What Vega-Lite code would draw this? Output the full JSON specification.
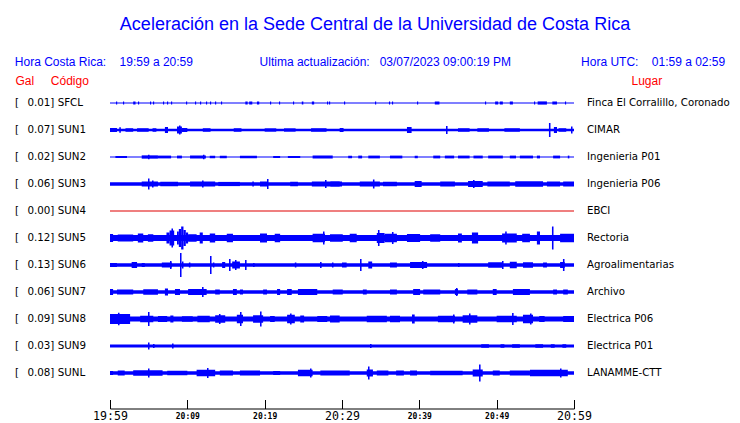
{
  "$schema": "https://vega.github.io/schema/vega-lite/v6.json",
  "width": 464,
  "height": 297,
  "autosize": "none",
  "padding": {"left": 110, "top": 89.5, "right": 166, "bottom": 36.5},
  "background": "white",
  "title": {
    "text": "Aceleración en la Sede Central de la Universidad de Costa Rica",
    "subtitle": "Hora Costa Rica:\u00a0\u00a0\u00a0\u00a019:59 a 20:59\u00a0\u00a0\u00a0\u00a0\u00a0\u00a0\u00a0\u00a0\u00a0\u00a0\u00a0\u00a0\u00a0\u00a0\u00a0\u00a0\u00a0\u00a0\u00a0\u00a0Ultima actualización:\u00a0\u00a0\u00a003/07/2023 09:00:19 PM\u00a0\u00a0\u00a0\u00a0\u00a0\u00a0\u00a0\u00a0\u00a0\u00a0\u00a0\u00a0\u00a0\u00a0\u00a0\u00a0\u00a0\u00a0\u00a0\u00a0\u00a0Hora UTC:\u00a0\u00a0\u00a0\u00a001:59 a 02:59\u00a0\u00a0\u00a0\u200b",
    "anchor": "middle",
    "frame": "group",
    "dx": 33,
    "offset": 6.5,
    "font": "Liberation Sans",
    "fontSize": 18,
    "fontWeight": "normal",
    "color": "#0000ff",
    "subtitleFont": "Liberation Sans",
    "subtitleFontSize": 12,
    "subtitleFontWeight": "normal",
    "subtitleColor": "#0000ff",
    "subtitlePadding": 23
  },
  "datasets": {
    "st": [
      {"s": "SFCL", "gal": 0.01, "place": "Finca El Corralillo, Coronado"},
      {"s": "SUN1", "gal": 0.07, "place": "CIMAR"},
      {"s": "SUN2", "gal": 0.02, "place": "Ingenieria P01"},
      {"s": "SUN3", "gal": 0.06, "place": "Ingenieria P06"},
      {"s": "SUN4", "gal": 0.00, "place": "EBCI"},
      {"s": "SUN5", "gal": 0.12, "place": "Rectoria"},
      {"s": "SUN6", "gal": 0.13, "place": "Agroalimentarias"},
      {"s": "SUN7", "gal": 0.06, "place": "Archivo"},
      {"s": "SUN8", "gal": 0.09, "place": "Electrica P06"},
      {"s": "SUN9", "gal": 0.03, "place": "Electrica P01"},
      {"s": "SUNL", "gal": 0.08, "place": "LANAMME-CTT"}
    ],
    "w": [
      {"s": "SFCL", "t0": 0, "t1": 60, "a": 1.1},
      {"s": "SFCL", "t0": 0.78, "t1": 0.93, "a": 3},
      {"s": "SFCL", "t0": 1.68, "t1": 1.83, "a": 3},
      {"s": "SFCL", "t0": 3.0, "t1": 3.3, "a": 3},
      {"s": "SFCL", "t0": 3.62, "t1": 3.77, "a": 3},
      {"s": "SFCL", "t0": 5.17, "t1": 5.32, "a": 3},
      {"s": "SFCL", "t0": 5.56, "t1": 5.71, "a": 3},
      {"s": "SFCL", "t0": 6.85, "t1": 7.0, "a": 3},
      {"s": "SFCL", "t0": 7.37, "t1": 7.52, "a": 3},
      {"s": "SFCL", "t0": 7.89, "t1": 8.04, "a": 3},
      {"s": "SFCL", "t0": 9.83, "t1": 9.98, "a": 3},
      {"s": "SFCL", "t0": 10.99, "t1": 11.14, "a": 3},
      {"s": "SFCL", "t0": 11.64, "t1": 11.79, "a": 3},
      {"s": "SFCL", "t0": 12.41, "t1": 12.56, "a": 3},
      {"s": "SFCL", "t0": 12.93, "t1": 13.08, "a": 3},
      {"s": "SFCL", "t0": 13.58, "t1": 13.73, "a": 3},
      {"s": "SFCL", "t0": 14.35, "t1": 14.5, "a": 3},
      {"s": "SFCL", "t0": 17.5, "t1": 17.8, "a": 3},
      {"s": "SFCL", "t0": 18.0, "t1": 18.4, "a": 3},
      {"s": "SFCL", "t0": 19.0, "t1": 19.3, "a": 3},
      {"s": "SFCL", "t0": 20.69, "t1": 20.84, "a": 3},
      {"s": "SFCL", "t0": 21.85, "t1": 22.0, "a": 3},
      {"s": "SFCL", "t0": 23.66, "t1": 23.81, "a": 3},
      {"s": "SFCL", "t0": 24.8, "t1": 25.0, "a": 3},
      {"s": "SFCL", "t0": 26.1, "t1": 26.4, "a": 3},
      {"s": "SFCL", "t0": 28.06, "t1": 28.21, "a": 3},
      {"s": "SFCL", "t0": 28.32, "t1": 28.47, "a": 3},
      {"s": "SFCL", "t0": 30.26, "t1": 30.41, "a": 3},
      {"s": "SFCL", "t0": 34.27, "t1": 34.42, "a": 3},
      {"s": "SFCL", "t0": 36.07, "t1": 36.22, "a": 3},
      {"s": "SFCL", "t0": 36.46, "t1": 36.61, "a": 3},
      {"s": "SFCL", "t0": 39.7, "t1": 39.85, "a": 3},
      {"s": "SFCL", "t0": 42.0, "t1": 42.6, "a": 3},
      {"s": "SFCL", "t0": 48.49, "t1": 48.64, "a": 3},
      {"s": "SFCL", "t0": 49.8, "t1": 50.2, "a": 3},
      {"s": "SFCL", "t0": 50.4, "t1": 50.8, "a": 3},
      {"s": "SFCL", "t0": 51.7, "t1": 52.1, "a": 3},
      {"s": "SFCL", "t0": 54.83, "t1": 54.98, "a": 3},
      {"s": "SFCL", "t0": 55.3, "t1": 56.5, "a": 3.2},
      {"s": "SFCL", "t0": 57.2, "t1": 57.8, "a": 3},
      {"s": "SFCL", "t0": 58.83, "t1": 58.98, "a": 3},

      {"s": "SUN1", "t0": 0, "t1": 60, "a": 2.7},
      {"s": "SUN1", "t0": 0, "t1": 0.9, "a": 4},
      {"s": "SUN1", "t0": 1.2, "t1": 1.4, "a": 5.5},
      {"s": "SUN1", "t0": 2.0, "t1": 3.0, "a": 3.5},
      {"s": "SUN1", "t0": 3.5, "t1": 5.0, "a": 3.5},
      {"s": "SUN1", "t0": 5.5, "t1": 6.0, "a": 3.5},
      {"s": "SUN1", "t0": 7.1, "t1": 7.5, "a": 6},
      {"s": "SUN1", "t0": 8.66, "t1": 9.3, "a": 7},
      {"s": "SUN1", "t0": 8.92, "t1": 9.12, "a": 9},
      {"s": "SUN1", "t0": 9.3, "t1": 10.0, "a": 4},
      {"s": "SUN1", "t0": 12.0, "t1": 13.0, "a": 3.5},
      {"s": "SUN1", "t0": 16.0, "t1": 17.0, "a": 3.5},
      {"s": "SUN1", "t0": 20.0, "t1": 21.5, "a": 3.3},
      {"s": "SUN1", "t0": 22.5, "t1": 24.0, "a": 3.3},
      {"s": "SUN1", "t0": 26.0, "t1": 28.0, "a": 3.5},
      {"s": "SUN1", "t0": 29.7, "t1": 30.2, "a": 4},
      {"s": "SUN1", "t0": 38.4, "t1": 39.0, "a": 6},
      {"s": "SUN1", "t0": 43.45, "t1": 43.65, "a": 8},
      {"s": "SUN1", "t0": 45.0, "t1": 46.5, "a": 3.5},
      {"s": "SUN1", "t0": 47.5, "t1": 49.0, "a": 3.5},
      {"s": "SUN1", "t0": 51.0, "t1": 53.0, "a": 3.5},
      {"s": "SUN1", "t0": 56.76, "t1": 56.96, "a": 14},
      {"s": "SUN1", "t0": 57.4, "t1": 57.8, "a": 6},
      {"s": "SUN1", "t0": 58.0, "t1": 59.0, "a": 3.5},
      {"s": "SUN1", "t0": 59.61, "t1": 59.81, "a": 7},

      {"s": "SUN2", "t0": 0, "t1": 60, "a": 1},
      {"s": "SUN2", "t0": 0.7, "t1": 2.2, "a": 2},
      {"s": "SUN2", "t0": 4.1, "t1": 6.2, "a": 3.3},
      {"s": "SUN2", "t0": 4.91, "t1": 5.11, "a": 4.5},
      {"s": "SUN2", "t0": 6.2, "t1": 7.9, "a": 2.8},
      {"s": "SUN2", "t0": 8.66, "t1": 9.3, "a": 2.8},
      {"s": "SUN2", "t0": 10.35, "t1": 12.4, "a": 3},
      {"s": "SUN2", "t0": 12.02, "t1": 12.22, "a": 4.5},
      {"s": "SUN2", "t0": 12.9, "t1": 13.6, "a": 2.5},
      {"s": "SUN2", "t0": 14.2, "t1": 15.1, "a": 2.5},
      {"s": "SUN2", "t0": 16.8, "t1": 19.0, "a": 2.5},
      {"s": "SUN2", "t0": 21.1, "t1": 22.0, "a": 2},
      {"s": "SUN2", "t0": 23.0, "t1": 24.6, "a": 2},
      {"s": "SUN2", "t0": 26.2, "t1": 28.8, "a": 2.8},
      {"s": "SUN2", "t0": 30.8, "t1": 31.3, "a": 2.5},
      {"s": "SUN2", "t0": 32.1, "t1": 32.6, "a": 2.8},
      {"s": "SUN2", "t0": 33.4, "t1": 34.9, "a": 2.8},
      {"s": "SUN2", "t0": 36.2, "t1": 37.8, "a": 2.8},
      {"s": "SUN2", "t0": 39.4, "t1": 39.8, "a": 2.5},
      {"s": "SUN2", "t0": 41.8, "t1": 42.7, "a": 2.8},
      {"s": "SUN2", "t0": 43.3, "t1": 44.5, "a": 2.8},
      {"s": "SUN2", "t0": 45.0, "t1": 46.5, "a": 2.8},
      {"s": "SUN2", "t0": 47.0, "t1": 48.2, "a": 2.8},
      {"s": "SUN2", "t0": 48.9, "t1": 50.8, "a": 2.8},
      {"s": "SUN2", "t0": 51.7, "t1": 52.5, "a": 2.8},
      {"s": "SUN2", "t0": 53.0, "t1": 54.7, "a": 2.8},
      {"s": "SUN2", "t0": 55.2, "t1": 55.6, "a": 2.8},
      {"s": "SUN2", "t0": 57.3, "t1": 58.2, "a": 2.8},
      {"s": "SUN2", "t0": 59.2, "t1": 59.4, "a": 2.8},

      {"s": "SUN3", "t0": 0, "t1": 60, "a": 3.3},
      {"s": "SUN3", "t0": 4.1, "t1": 6.2, "a": 5},
      {"s": "SUN3", "t0": 4.91, "t1": 5.11, "a": 11},
      {"s": "SUN3", "t0": 5.43, "t1": 5.63, "a": 7},
      {"s": "SUN3", "t0": 6.5, "t1": 8.8, "a": 4.5},
      {"s": "SUN3", "t0": 10.35, "t1": 13.6, "a": 5},
      {"s": "SUN3", "t0": 11.9, "t1": 12.1, "a": 7},
      {"s": "SUN3", "t0": 14.0, "t1": 16.8, "a": 4.2},
      {"s": "SUN3", "t0": 18.4, "t1": 18.6, "a": 5},
      {"s": "SUN3", "t0": 19.4, "t1": 20.3, "a": 5},
      {"s": "SUN3", "t0": 20.3, "t1": 20.5, "a": 10},
      {"s": "SUN3", "t0": 23.3, "t1": 24.3, "a": 4.5},
      {"s": "SUN3", "t0": 26.1, "t1": 29.7, "a": 5},
      {"s": "SUN3", "t0": 27.8, "t1": 28.0, "a": 8},
      {"s": "SUN3", "t0": 28.5, "t1": 30.0, "a": 5},
      {"s": "SUN3", "t0": 32.3, "t1": 34.9, "a": 5},
      {"s": "SUN3", "t0": 34.0, "t1": 34.2, "a": 9},
      {"s": "SUN3", "t0": 35.3, "t1": 37.1, "a": 4.5},
      {"s": "SUN3", "t0": 39.4, "t1": 40.3, "a": 6},
      {"s": "SUN3", "t0": 42.7, "t1": 44.6, "a": 5},
      {"s": "SUN3", "t0": 46.3, "t1": 48.2, "a": 6},
      {"s": "SUN3", "t0": 46.94, "t1": 47.14, "a": 8},
      {"s": "SUN3", "t0": 48.8, "t1": 51.7, "a": 5},
      {"s": "SUN3", "t0": 52.4, "t1": 56.0, "a": 5.5},
      {"s": "SUN3", "t0": 56.5, "t1": 58.2, "a": 5},
      {"s": "SUN3", "t0": 58.6, "t1": 60, "a": 5},

      {"s": "SUN4", "t0": 0, "t1": 60, "a": 1},

      {"s": "SUN5", "t0": 0, "t1": 60, "a": 6},
      {"s": "SUN5", "t0": 0, "t1": 0.4, "a": 8},
      {"s": "SUN5", "t0": 1.0, "t1": 3.0, "a": 7},
      {"s": "SUN5", "t0": 3.6, "t1": 4.3, "a": 9},
      {"s": "SUN5", "t0": 4.9, "t1": 5.6, "a": 7.5},
      {"s": "SUN5", "t0": 7.3, "t1": 7.7, "a": 11},
      {"s": "SUN5", "t0": 7.7, "t1": 8.3, "a": 15},
      {"s": "SUN5", "t0": 7.95, "t1": 8.15, "a": 19},
      {"s": "SUN5", "t0": 8.66, "t1": 8.9, "a": 13},
      {"s": "SUN5", "t0": 8.9, "t1": 9.2, "a": 18},
      {"s": "SUN5", "t0": 9.2, "t1": 9.5, "a": 23},
      {"s": "SUN5", "t0": 9.5, "t1": 9.8, "a": 16},
      {"s": "SUN5", "t0": 9.8, "t1": 10.1, "a": 11},
      {"s": "SUN5", "t0": 10.1, "t1": 11.2, "a": 7.5},
      {"s": "SUN5", "t0": 11.6, "t1": 12.0, "a": 11},
      {"s": "SUN5", "t0": 12.9, "t1": 13.6, "a": 9},
      {"s": "SUN5", "t0": 15.1, "t1": 15.9, "a": 8.5},
      {"s": "SUN5", "t0": 19.4, "t1": 20.3, "a": 9},
      {"s": "SUN5", "t0": 21.3, "t1": 22.0, "a": 8.5},
      {"s": "SUN5", "t0": 26.2, "t1": 27.8, "a": 8.5},
      {"s": "SUN5", "t0": 27.54, "t1": 27.74, "a": 13},
      {"s": "SUN5", "t0": 28.45, "t1": 30.1, "a": 7.5},
      {"s": "SUN5", "t0": 31.0, "t1": 31.9, "a": 8.5},
      {"s": "SUN5", "t0": 34.5, "t1": 35.5, "a": 10},
      {"s": "SUN5", "t0": 35.5, "t1": 37.1, "a": 8.5},
      {"s": "SUN5", "t0": 34.65, "t1": 34.85, "a": 16},
      {"s": "SUN5", "t0": 36.46, "t1": 36.66, "a": 12},
      {"s": "SUN5", "t0": 38.4, "t1": 40.1, "a": 8},
      {"s": "SUN5", "t0": 41.4, "t1": 42.7, "a": 7.5},
      {"s": "SUN5", "t0": 45.0, "t1": 45.5, "a": 9},
      {"s": "SUN5", "t0": 46.8, "t1": 47.6, "a": 11},
      {"s": "SUN5", "t0": 50.7, "t1": 52.6, "a": 9},
      {"s": "SUN5", "t0": 51.1, "t1": 51.3, "a": 13},
      {"s": "SUN5", "t0": 53.3, "t1": 54.3, "a": 8.5},
      {"s": "SUN5", "t0": 55.2, "t1": 55.6, "a": 13},
      {"s": "SUN5", "t0": 57.15, "t1": 57.35, "a": 23},
      {"s": "SUN5", "t0": 58.2, "t1": 60, "a": 8.5},

      {"s": "SUN6", "t0": 0, "t1": 60, "a": 3.3},
      {"s": "SUN6", "t0": 0, "t1": 0.9, "a": 4},
      {"s": "SUN6", "t0": 2.8, "t1": 3.5, "a": 6},
      {"s": "SUN6", "t0": 4.1, "t1": 4.5, "a": 4},
      {"s": "SUN6", "t0": 6.7, "t1": 8.0, "a": 5},
      {"s": "SUN6", "t0": 7.76, "t1": 7.96, "a": 8},
      {"s": "SUN6", "t0": 9.05, "t1": 9.25, "a": 24},
      {"s": "SUN6", "t0": 9.3, "t1": 9.5, "a": 7},
      {"s": "SUN6", "t0": 10.2, "t1": 10.4, "a": 5},
      {"s": "SUN6", "t0": 12.93, "t1": 13.13, "a": 18},
      {"s": "SUN6", "t0": 13.3, "t1": 13.5, "a": 5},
      {"s": "SUN6", "t0": 14.5, "t1": 14.9, "a": 6},
      {"s": "SUN6", "t0": 15.39, "t1": 15.59, "a": 12},
      {"s": "SUN6", "t0": 15.8, "t1": 16.8, "a": 7},
      {"s": "SUN6", "t0": 16.16, "t1": 16.36, "a": 10},
      {"s": "SUN6", "t0": 17.46, "t1": 17.66, "a": 10},
      {"s": "SUN6", "t0": 18.5, "t1": 18.7, "a": 4},
      {"s": "SUN6", "t0": 23.9, "t1": 24.1, "a": 5},
      {"s": "SUN6", "t0": 27.16, "t1": 27.36, "a": 6},
      {"s": "SUN6", "t0": 28.7, "t1": 28.9, "a": 5},
      {"s": "SUN6", "t0": 30.0, "t1": 30.6, "a": 5},
      {"s": "SUN6", "t0": 32.33, "t1": 32.53, "a": 12},
      {"s": "SUN6", "t0": 33.4, "t1": 33.9, "a": 7},
      {"s": "SUN6", "t0": 36.2, "t1": 37.1, "a": 5},
      {"s": "SUN6", "t0": 38.8, "t1": 41.0, "a": 6},
      {"s": "SUN6", "t0": 40.34, "t1": 40.54, "a": 8},
      {"s": "SUN6", "t0": 45.0, "t1": 45.2, "a": 4},
      {"s": "SUN6", "t0": 48.9, "t1": 50.8, "a": 5.5},
      {"s": "SUN6", "t0": 50.69, "t1": 50.89, "a": 8},
      {"s": "SUN6", "t0": 51.7, "t1": 52.6, "a": 6.5},
      {"s": "SUN6", "t0": 53.4, "t1": 54.7, "a": 5.5},
      {"s": "SUN6", "t0": 56.0, "t1": 56.5, "a": 5},
      {"s": "SUN6", "t0": 58.2, "t1": 58.8, "a": 6},
      {"s": "SUN6", "t0": 58.57, "t1": 58.77, "a": 12},

      {"s": "SUN7", "t0": 0, "t1": 60, "a": 3.3},
      {"s": "SUN7", "t0": 0, "t1": 0.4, "a": 6},
      {"s": "SUN7", "t0": 0.9, "t1": 3.0, "a": 5},
      {"s": "SUN7", "t0": 4.3, "t1": 6.2, "a": 5.5},
      {"s": "SUN7", "t0": 7.1, "t1": 7.5, "a": 7},
      {"s": "SUN7", "t0": 8.4, "t1": 9.05, "a": 6},
      {"s": "SUN7", "t0": 10.1, "t1": 12.5, "a": 6},
      {"s": "SUN7", "t0": 11.9, "t1": 12.1, "a": 10},
      {"s": "SUN7", "t0": 13.6, "t1": 14.2, "a": 5},
      {"s": "SUN7", "t0": 15.9, "t1": 16.4, "a": 6},
      {"s": "SUN7", "t0": 16.8, "t1": 17.2, "a": 5},
      {"s": "SUN7", "t0": 19.8, "t1": 20.3, "a": 5},
      {"s": "SUN7", "t0": 21.6, "t1": 22.0, "a": 6},
      {"s": "SUN7", "t0": 22.9, "t1": 23.5, "a": 6},
      {"s": "SUN7", "t0": 24.3, "t1": 26.8, "a": 6},
      {"s": "SUN7", "t0": 28.8, "t1": 30.1, "a": 5},
      {"s": "SUN7", "t0": 32.7, "t1": 33.2, "a": 5},
      {"s": "SUN7", "t0": 36.2, "t1": 37.1, "a": 5},
      {"s": "SUN7", "t0": 39.2, "t1": 40.1, "a": 6},
      {"s": "SUN7", "t0": 40.5, "t1": 42.7, "a": 5},
      {"s": "SUN7", "t0": 44.6, "t1": 45.0, "a": 6},
      {"s": "SUN7", "t0": 44.74, "t1": 44.94, "a": 8},
      {"s": "SUN7", "t0": 46.2, "t1": 47.5, "a": 5},
      {"s": "SUN7", "t0": 49.5, "t1": 50.0, "a": 6},
      {"s": "SUN7", "t0": 52.1, "t1": 54.3, "a": 6},
      {"s": "SUN7", "t0": 57.3, "t1": 57.8, "a": 5},
      {"s": "SUN7", "t0": 58.6, "t1": 59.2, "a": 5},

      {"s": "SUN8", "t0": 0, "t1": 60, "a": 5},
      {"s": "SUN8", "t0": 0, "t1": 2.6, "a": 10},
      {"s": "SUN8", "t0": 1.03, "t1": 1.23, "a": 12.5},
      {"s": "SUN8", "t0": 3.9, "t1": 5.6, "a": 6.5},
      {"s": "SUN8", "t0": 4.91, "t1": 5.11, "a": 14},
      {"s": "SUN8", "t0": 6.2, "t1": 7.4, "a": 6},
      {"s": "SUN8", "t0": 7.8, "t1": 8.2, "a": 7},
      {"s": "SUN8", "t0": 9.3, "t1": 10.7, "a": 5.5},
      {"s": "SUN8", "t0": 11.3, "t1": 12.9, "a": 6.5},
      {"s": "SUN8", "t0": 13.6, "t1": 14.9, "a": 7.5},
      {"s": "SUN8", "t0": 14.09, "t1": 14.29, "a": 10},
      {"s": "SUN8", "t0": 16.4, "t1": 17.2, "a": 8.5},
      {"s": "SUN8", "t0": 16.81, "t1": 17.01, "a": 14},
      {"s": "SUN8", "t0": 18.5, "t1": 19.8, "a": 7.5},
      {"s": "SUN8", "t0": 19.4, "t1": 19.6, "a": 15},
      {"s": "SUN8", "t0": 20.7, "t1": 21.3, "a": 6},
      {"s": "SUN8", "t0": 22.9, "t1": 23.9, "a": 8.5},
      {"s": "SUN8", "t0": 23.28, "t1": 23.48, "a": 11},
      {"s": "SUN8", "t0": 24.6, "t1": 25.1, "a": 7},
      {"s": "SUN8", "t0": 26.8, "t1": 28.1, "a": 6},
      {"s": "SUN8", "t0": 28.45, "t1": 29.7, "a": 7},
      {"s": "SUN8", "t0": 33.2, "t1": 35.8, "a": 6.5},
      {"s": "SUN8", "t0": 36.2, "t1": 37.5, "a": 6.5},
      {"s": "SUN8", "t0": 39.05, "t1": 39.4, "a": 9},
      {"s": "SUN8", "t0": 42.4, "t1": 44.6, "a": 6.5},
      {"s": "SUN8", "t0": 44.35, "t1": 44.55, "a": 9},
      {"s": "SUN8", "t0": 45.6, "t1": 47.5, "a": 7.5},
      {"s": "SUN8", "t0": 46.42, "t1": 46.62, "a": 11},
      {"s": "SUN8", "t0": 50.0, "t1": 52.6, "a": 6.5},
      {"s": "SUN8", "t0": 51.99, "t1": 52.19, "a": 12},
      {"s": "SUN8", "t0": 53.4, "t1": 54.7, "a": 8.5},
      {"s": "SUN8", "t0": 54.31, "t1": 54.51, "a": 11},
      {"s": "SUN8", "t0": 55.5, "t1": 56.2, "a": 6},
      {"s": "SUN8", "t0": 58.6, "t1": 60, "a": 6},

      {"s": "SUN9", "t0": 0, "t1": 60, "a": 3},
      {"s": "SUN9", "t0": 4.91, "t1": 5.11, "a": 7},
      {"s": "SUN9", "t0": 5.56, "t1": 5.76, "a": 4},
      {"s": "SUN9", "t0": 8.02, "t1": 8.22, "a": 5},
      {"s": "SUN9", "t0": 33.62, "t1": 33.82, "a": 4},
      {"s": "SUN9", "t0": 48.0, "t1": 49.0, "a": 3.5},
      {"s": "SUN9", "t0": 50.5, "t1": 51.0, "a": 3.5},
      {"s": "SUN9", "t0": 52.0, "t1": 53.0, "a": 3.5},
      {"s": "SUN9", "t0": 55.0, "t1": 56.0, "a": 3.5},
      {"s": "SUN9", "t0": 57.0, "t1": 57.5, "a": 3.5},
      {"s": "SUN9", "t0": 58.5, "t1": 59.0, "a": 3.5},

      {"s": "SUNL", "t0": 0, "t1": 60, "a": 3.3},
      {"s": "SUNL", "t0": 0, "t1": 0.4, "a": 4},
      {"s": "SUNL", "t0": 1.0, "t1": 1.9, "a": 5},
      {"s": "SUNL", "t0": 3.0, "t1": 6.8, "a": 5.5},
      {"s": "SUNL", "t0": 4.91, "t1": 5.11, "a": 9},
      {"s": "SUNL", "t0": 7.4, "t1": 10.0, "a": 4.5},
      {"s": "SUNL", "t0": 11.2, "t1": 13.6, "a": 6.5},
      {"s": "SUNL", "t0": 12.54, "t1": 12.74, "a": 10},
      {"s": "SUNL", "t0": 14.2, "t1": 15.9, "a": 5},
      {"s": "SUNL", "t0": 16.8, "t1": 19.4, "a": 5},
      {"s": "SUNL", "t0": 21.1, "t1": 22.0, "a": 4},
      {"s": "SUNL", "t0": 24.3, "t1": 26.2, "a": 6.5},
      {"s": "SUNL", "t0": 25.86, "t1": 26.06, "a": 9},
      {"s": "SUNL", "t0": 27.2, "t1": 31.0, "a": 5},
      {"s": "SUNL", "t0": 33.2, "t1": 34.0, "a": 7},
      {"s": "SUNL", "t0": 33.36, "t1": 33.56, "a": 13},
      {"s": "SUNL", "t0": 34.5, "t1": 36.0, "a": 5},
      {"s": "SUNL", "t0": 37.0, "t1": 38.0, "a": 5},
      {"s": "SUNL", "t0": 38.8, "t1": 39.7, "a": 5},
      {"s": "SUNL", "t0": 41.4, "t1": 45.6, "a": 4.5},
      {"s": "SUNL", "t0": 46.9, "t1": 48.2, "a": 7},
      {"s": "SUNL", "t0": 47.72, "t1": 47.92, "a": 17},
      {"s": "SUNL", "t0": 49.5, "t1": 50.4, "a": 5},
      {"s": "SUNL", "t0": 51.7, "t1": 54.3, "a": 5},
      {"s": "SUNL", "t0": 54.3, "t1": 59.2, "a": 6.5},
      {"s": "SUNL", "t0": 58.19, "t1": 58.39, "a": 9}
    ]
  },
  "resolve": {"axis": {"y": "independent"}},
  "layer": [
    {
      "data": {"name": "w"},
      "mark": {"type": "bar", "stroke": null},
      "encoding": {
        "x": {
          "field": "t0",
          "type": "quantitative",
          "scale": {"domain": [0, 60], "nice": false, "zero": false},
          "axis": {
            "orient": "bottom",
            "title": null,
            "offset": 22,
            "values": [0, 5, 10, 15, 20, 25, 30, 35, 40, 45, 50, 55, 60],
            "tickSize": -9,
            "tickColor": "#000000",
            "domainColor": "#000000",
            "labelColor": "#000000",
            "labelFont": "DejaVu Sans Mono",
            "labelFontSize": {"condition": {"test": "datum.value % 30 === 0", "value": 11.6}, "value": 8},
            "labelFontWeight": {"condition": {"test": "datum.value % 30 === 0", "value": "normal"}, "value": "bold"},
            "labelBaseline": "middle",
            "labelPadding": 16.5,
            "labelFlush": false,
            "labelOverlap": false,
            "labelBound": false,
            "labelExpr": "datum.value % 10 === 0 ? timeFormat(datetime(2023, 6, 3, 19, 59 + datum.value), '%H:%M') : ''"
          }
        },
        "x2": {"field": "t1"},
        "y": {
          "field": "s",
          "type": "nominal",
          "scale": {"domain": ["SFCL", "SUN1", "SUN2", "SUN3", "SUN4", "SUN5", "SUN6", "SUN7", "SUN8", "SUN9", "SUNL"], "paddingInner": 0, "paddingOuter": 0},
          "axis": {
            "orient": "left",
            "labels": false,
            "ticks": false,
            "domain": false,
            "title": "Gal\u00a0\u00a0\u00a0\u00a0\u00a0Código",
            "titleAngle": 0,
            "titleAlign": "left",
            "titleBaseline": "alphabetic",
            "titleX": -95,
            "titleY": -5.5,
            "titleColor": "#ff0000",
            "titleFont": "Liberation Sans",
            "titleFontSize": 12,
            "titleFontWeight": "normal"
          }
        },
        "size": {"field": "a", "type": "quantitative", "scale": {"domain": [0, 30], "range": [0, 30]}, "legend": null},
        "color": {"condition": {"test": "datum.s === 'SUN4'", "value": "#e00000"}, "value": "#0000ff"}
      }
    },
    {
      "data": {"name": "st"},
      "mark": {
        "type": "text",
        "align": "left",
        "baseline": "middle",
        "dx": -95,
        "font": "DejaVu Sans",
        "fontSize": 10.3,
        "color": "#000000",
        "text": {"expr": "'[\u2002\u00a0' + format(datum.gal, '.2f') + '] ' + datum.s"}
      },
      "encoding": {
        "x": {"datum": 0, "type": "quantitative"},
        "y": {"field": "s", "type": "nominal", "axis": null}
      }
    },
    {
      "data": {"name": "st"},
      "mark": {
        "type": "text",
        "align": "left",
        "baseline": "middle",
        "dx": 13,
        "font": "DejaVu Sans",
        "fontSize": 10.2,
        "color": "#000000"
      },
      "encoding": {
        "x": {"datum": 60, "type": "quantitative"},
        "y": {
          "field": "s",
          "type": "nominal",
          "axis": {
            "orient": "right",
            "labels": false,
            "ticks": false,
            "domain": false,
            "title": "Lugar",
            "titleAngle": 0,
            "titleAlign": "left",
            "titleBaseline": "alphabetic",
            "titleX": 57,
            "titleY": -5.5,
            "titleColor": "#ff0000",
            "titleFont": "Liberation Sans",
            "titleFontSize": 12,
            "titleFontWeight": "normal"
          }
        },
        "text": {"field": "place"}
      }
    }
  ],
  "config": {
    "view": {"stroke": null},
    "axis": {"grid": false}
  }
}
